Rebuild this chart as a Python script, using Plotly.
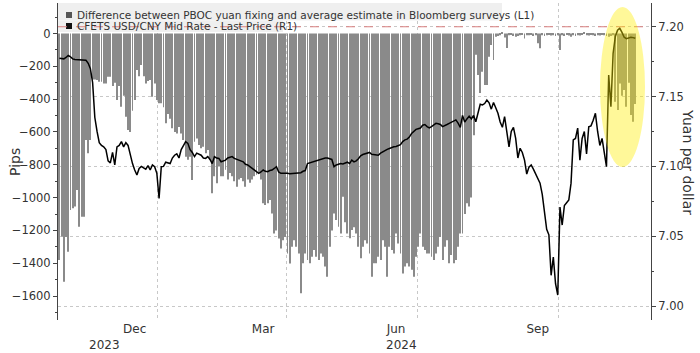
import pandas as pd
import plotly.graph_objects as go

# ---------------- data ----------------
holidays = ["2024-01-01", "2024-02-09", "2024-02-12", "2024-02-13", "2024-02-14",
            "2024-02-15", "2024-02-16", "2024-04-04", "2024-04-05", "2024-05-01",
            "2024-05-02", "2024-05-03", "2024-06-10", "2024-09-16", "2024-09-17",
            "2024-10-01", "2024-10-02", "2024-10-03", "2024-10-04", "2024-10-07"]
dates = pd.bdate_range("2023-10-30", "2024-11-25", freq="C", holidays=holidays)

# Difference between PBOC fixing and Bloomberg survey estimate (pips, L1)
fix_gap = [
    -1380, -1238, -1513, -1240, -1330, -1076, -1065, -1055, -954, -1178,
    -1117, -1117, -649, -730, -649,
    -280, -280, -283, -294, -294, -304, -304, -263, -263, -320,
    -300, -405, -320, -446, -380, -507, -588, -600, -470, -405,
    -222, -260, -192, -260, -304, -290, -283, -385, -304, -405,
    -425, -425, -450, -547, -490, -520, -578, -600, -609, -570,
    -610, -649, -751, -770, -751, -893, -660, -640, -680, -700,
    -690, -730, -710, -770, -974, -870, -913, -810, -870, -870,
    -830, -890, -850, -870, -900, -934, -890, -880, -900, -934,
    -890, -910, -890, -870, -860, -850, -890, -1035, -1045, -1035,
    -1015, -1097, -1219, -1200, -1250, -1310, -1260, -1240, -1340, -1402,
    -1300, -1260, -1300, -1340,
    -1583, -1400, -1340, -1380, -1400, -1360, -1320, -1360, -1380, -1340,
    -1360, -1420, -1483, -1300, -1200, -1097, -1137, -1178, -1219, -995,
    -1150, -1219, -1248, -1198, -1180, -1219, -1300, -1370, -1300, -1260,
    -1280, -1340, -1483, -1400, -1400, -1360, -1380, -1260, -1300, -1483,
    -1300, -1320, -1340, -1219, -1280, -1340, -1462, -1420, -1400, -1420,
    -1440, -1483, -1360, -1300, -1219, -1300, -1320, -1340, -1340, -1360,
    -1380, -1340, -1300, -1240, -1380, -1300, -1260, -1400, -1350, -1400,
    -1380, -1300, -1219, -1219, -1100, -1035, -1055, -1000, -620,
    -130, -253, -363, -233, -314, -314, -141, -70, -162, -20,
    -15, -10, 10, -25, -89, -10, -5, -15, -20, -15, -10, -5, -30, -10,
    -10, -5, -15, -10, -60, -90, -10, -15, -10, -8, -12, -10, -15, -10,
    -100,
    -10, -15, -8, -12, -20, -10, -15, -10, -12, -8, 10, -10, -12, -8,
    -10, -15, -10, -12, -8, -10, -15,
    -20, -15, -10, -416, -466, -304, -380, -344, -446, -300, -497, -538, -430,
]

# CFETS USD/CNY mid rate (yuan per dollar, R1)
cfets = [
    7.1775, 7.1775, 7.1770, 7.1780, 7.1795, 7.1785, 7.1770, 7.1765, 7.1765, 7.1760,
    7.1765, 7.1762, 7.1760,
    7.1738, 7.1700, 7.1600, 7.1350, 7.1250, 7.1170, 7.1150, 7.1140, 7.1120, 7.1040,
    7.1025, 7.1100, 7.1010, 7.1140, 7.1150, 7.1177, 7.1140, 7.1170, 7.1150, 7.1080,
    7.1020, 7.0974, 7.0938, 7.0985, 7.1000, 7.0990, 7.0980, 7.1005, 7.0974, 7.1010,
    7.0998, 7.0950,
    7.0770, 7.0998, 7.1000, 7.1030, 7.1025, 7.1020, 7.1060, 7.1080, 7.1090, 7.1060,
    7.1120, 7.1150, 7.1177, 7.1165, 7.1120, 7.1100, 7.1070, 7.1095, 7.1090, 7.1080,
    7.1060, 7.1057, 7.1070, 7.1050, 7.1020, 7.1070, 7.1060, 7.1057, 7.1033, 7.1040,
    7.1045, 7.1060, 7.1065, 7.1070, 7.1057, 7.1050, 7.1045, 7.1040, 7.1033, 7.1015,
    7.1010, 7.0998, 7.0985, 7.0974, 7.0960, 7.0950, 7.0960, 7.0974, 7.0965, 7.0962,
    7.0970, 7.0974, 7.0985, 7.0998, 7.0960, 7.0950, 7.0950, 7.0952, 7.0950, 7.0948,
    7.0950, 7.0952, 7.0950, 7.0955, 7.0955,
    7.0965, 7.0970, 7.1020, 7.1025, 7.1030, 7.1038, 7.1045, 7.1050, 7.1055, 7.1060,
    7.1060, 7.1060, 7.1055, 7.1050, 7.0998, 7.1010, 7.1015, 7.1020, 7.1018, 7.1025,
    7.1030, 7.1020, 7.1045, 7.1032, 7.1040, 7.1055, 7.1075, 7.1085, 7.1090, 7.1095,
    7.1100, 7.1087, 7.1085, 7.1083, 7.1080, 7.1095, 7.1105, 7.1115, 7.1122, 7.1128,
    7.1135, 7.1140, 7.1143, 7.1147, 7.1155, 7.1178, 7.1190, 7.1195, 7.1210, 7.1235,
    7.1250, 7.1265, 7.1270, 7.1275, 7.1295, 7.1300, 7.1285, 7.1275, 7.1285, 7.1298,
    7.1308, 7.1305, 7.1300, 7.1285, 7.1295, 7.1300, 7.1308, 7.1318, 7.1325, 7.1333,
    7.1310, 7.1280, 7.1365, 7.1318, 7.1340, 7.1360, 7.1340, 7.1365, 7.1320, 7.1395,
    7.1445, 7.1440, 7.1450, 7.1475, 7.1455, 7.1410, 7.1458, 7.1420, 7.1380, 7.1318,
    7.1280, 7.1356, 7.1237, 7.1140, 7.1250, 7.1280, 7.1200, 7.1060, 7.1130, 7.1100,
    7.1045, 7.0945, 7.0995, 7.1010, 7.0980, 7.0950, 7.0920, 7.0880, 7.0800, 7.0680,
    7.0550, 7.0510, 7.0220, 7.0350, 7.0160, 7.0079, 7.0709, 7.0580, 7.0720, 7.0740,
    7.0760, 7.0880, 7.1190, 7.1200, 7.1274, 7.1045, 7.1200, 7.1250, 7.1090, 7.1284,
    7.1290, 7.1330, 7.1380, 7.1250, 7.1150, 7.1200, 7.1100, 7.0998, 7.1654, 7.1427,
    7.1810, 7.1930, 7.1975, 7.1989, 7.1960, 7.1925, 7.1915, 7.1920, 7.1925, 7.1922,
    7.1917,
]

label_months = ["2023-12", "2024-03", "2024-06", "2024-09"]
label_text = ["Dec", "Mar", "Jun", "Sep"]
grid_months = ["2024-01", "2024-04", "2024-07", "2024-10"]
years = [2023, 2024]
pips_ticks = list(range(0, -1601, -200))
yuan_ticks = [7.00, 7.05, 7.10, 7.15, 7.20]

n = len(dates)
assert len(fix_gap) == n and len(cfets) == n, (n, len(fix_gap), len(cfets))
idx = list(range(n))
periods = dates.to_period("M").astype(str)

XR = [-0.63, 267.1]
label_pos = [sum(i for i in idx if periods[i] == p) / sum(1 for i in idx if periods[i] == p)
             for p in label_months]
grid_pos = [min(i for i in idx if periods[i] == p) - 0.5 for p in grid_months]
year_pos = []
for yv in years:
    ii = [i for i in idx if dates[i].year == yv]
    lo = max(min(ii) - 0.5, XR[0]); hi = min(max(ii) + 0.5, XR[1]) if yv != years[-1] else XR[1]
    year_pos.append((lo + hi) / 2 - 1.5)

FONT = "DejaVu Sans"
TXT = "#333333"
GRID = "#c8c8c8"

fig = go.Figure()
fig.add_trace(go.Bar(
    x=idx, y=fix_gap, yaxis="y", width=0.42,
    marker=dict(color="#8a8a8a", line=dict(width=0)),
    customdata=[d.strftime("%Y-%m-%d") for d in dates],
    hovertemplate="%{customdata}: %{y}<extra></extra>",
    name="Difference between PBOC yuan fixing and average estimate in Bloomberg surveys (L1)"))
fig.add_trace(go.Scatter(
    x=idx, y=cfets, yaxis="y2", mode="lines",
    line=dict(color="#000000", width=1.5),
    customdata=[d.strftime("%Y-%m-%d") for d in dates],
    hovertemplate="%{customdata}: %{y:.4f}<extra></extra>",
    name="CFETS USD/CNY Mid Rate - Last Price (R1)"))

fig.update_layout(
    width=700, height=353,
    margin=dict(l=58, r=49, t=3, b=33),
    plot_bgcolor="white", paper_bgcolor="white",
    showlegend=False,
    font=dict(family=FONT, color=TXT, size=12),
    xaxis=dict(range=XR, tickmode="array", tickvals=label_pos, ticktext=label_text,
               showgrid=False, zeroline=False, showline=False, ticks="",
               tickfont=dict(size=12, color=TXT),
               minor=dict(tickmode="array", tickvals=grid_pos, showgrid=True,
                          gridcolor=GRID, griddash="dot", gridwidth=1, ticks="")),
    yaxis=dict(range=[-1746, 186], tickmode="array", tickvals=pips_ticks,
               showgrid=False, zeroline=False, showline=True, linecolor="#444", linewidth=1,
               ticks="outside", ticklen=4, tickcolor="#444",
               tickfont=dict(size=11.5, color=TXT),
               minor=dict(dtick=100, tick0=0, ticks="outside", ticklen=2, tickcolor="#444")),
    yaxis2=dict(range=[6.99, 7.217], overlaying="y", side="right", tickmode="array",
                tickvals=yuan_ticks, tickformat=".2f",
                showgrid=True, gridcolor=GRID, griddash="dot", gridwidth=1,
                zeroline=False, showline=True, linecolor="#444", linewidth=1,
                ticks="outside", ticklen=4, tickcolor="#444",
                tickfont=dict(size=11.5, color=TXT),
                minor=dict(dtick=0.025, tick0=7.0, ticks="outside", ticklen=2, tickcolor="#444")),
)

PW, PH, L, T = 593.0, 317.0, 58.0, 3.0
def px(xp): return (xp - L) / PW
def py(yp): return (T + PH - yp) / PH

shapes = [
    dict(type="rect", xref="paper", yref="paper", x0=px(58), x1=px(502), y0=py(20.5), y1=py(3),
         fillcolor="#efefef", line=dict(width=0), layer="above"),
    dict(type="rect", xref="paper", yref="paper", x0=px(58), x1=px(283), y0=py(32), y1=py(20.5),
         fillcolor="#efefef", line=dict(width=0), layer="above"),
    dict(type="rect", xref="paper", yref="paper", x0=px(66), x1=px(72), y0=py(18), y1=py(12),
         fillcolor="#555555", line=dict(width=0), layer="above"),
    dict(type="rect", xref="paper", yref="paper", x0=px(66), x1=px(72), y0=py(29), y1=py(23),
         fillcolor="#111111", line=dict(width=0), layer="above"),
    dict(type="line", xref="paper", yref="y2", x0=0, x1=1, y0=7.20, y1=7.20,
         line=dict(color="#d98080", width=1.2, dash="dash"), layer="above"),
    dict(type="circle", xref="paper", yref="paper", x0=px(600), x1=px(645), y0=py(167), y1=py(7),
         fillcolor="rgba(255,238,0,0.40)", line=dict(width=0), layer="above"),
]
fig.update_layout(shapes=shapes)

ann = [
    dict(text="Difference between PBOC yuan fixing and average estimate in Bloomberg surveys (L1)",
         xref="paper", yref="paper", x=px(75), y=py(15), xanchor="left", yanchor="middle",
         showarrow=False, font=dict(size=10.5, color=TXT)),
    dict(text="CFETS USD/CNY Mid Rate - Last Price (R1)",
         xref="paper", yref="paper", x=px(75), y=py(26.5), xanchor="left", yanchor="middle",
         showarrow=False, font=dict(size=10.5, color=TXT)),
    dict(text="Pips", xref="paper", yref="paper", x=px(15), y=py(162), textangle=-90,
         xanchor="center", yanchor="middle", showarrow=False, font=dict(size=14, color=TXT)),
    dict(text="Yuan per dollar", xref="paper", yref="paper", x=px(688), y=py(162), textangle=90,
         xanchor="center", yanchor="middle", showarrow=False, font=dict(size=14, color=TXT)),
]
for yv, xp in zip(years, year_pos):
    ann.append(dict(text=str(yv), xref="x", yref="paper", x=xp, y=py(345),
                    xanchor="center", yanchor="middle", showarrow=False,
                    font=dict(size=12, color=TXT)))
fig.update_layout(annotations=ann)

fig.write_html("out.html")
